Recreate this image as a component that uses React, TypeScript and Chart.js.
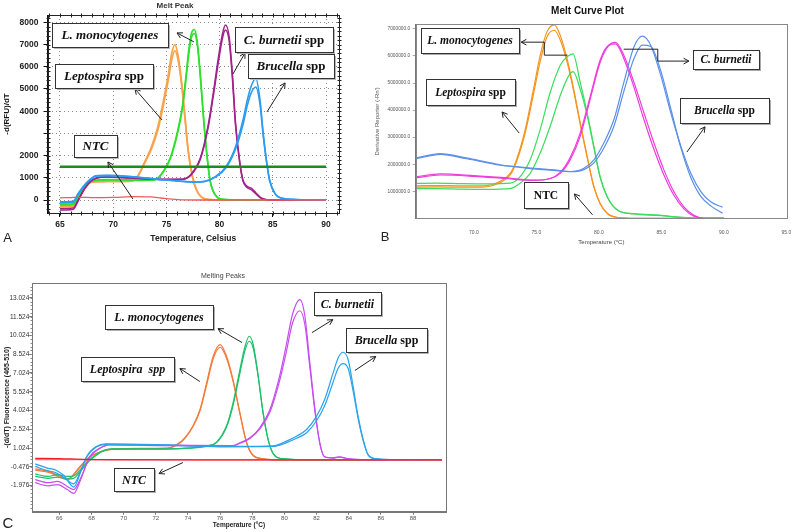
import { useEffect, useRef } from 'react';
import { Chart, registerables } from 'chart.js';
Chart.register(...registerables);

// ================= Panel A : Melt Peak =================
const A_X_TICKS = [65, 70, 75, 80, 85, 90];
const A_Y_TICKS = [0, 1000, 2000, 3000, 4000, 5000, 6000, 7000, 8000];
const A_THRESHOLD = 1500;
const A_THRESHOLD_SPAN = [65, 90];

const A_LEPTO_T = [65, 65.6, 66.25, 66.7, 67.2, 67.8, 68.4, 69.5, 71.0, 71.8, 72.4, 72.9, 73.6, 74.2, 74.8, 75.2, 75.5, 75.8, 76.1, 76.45, 76.75, 77.05, 77.4, 77.85, 78.5, 79.5, 82, 86, 90];
const A_LEPTO_1 = [-300, -300, -280, 80, 450, 760, 820, 830, 830, 850, 1150, 1650, 2400, 3300, 4650, 5700, 6600, 7000, 6500, 5250, 3750, 2250, 1200, 450, 80, 10, 0, 0, 0];
const A_LEPTO_2 = [-250, -250, -230, 100, 470, 780, 840, 850, 850, 860, 1130, 1600, 2300, 3150, 4450, 5450, 6300, 6720, 6300, 5100, 3650, 2200, 1150, 430, 70, 10, 0, 0, 0];

const A_LMONO_T = [65, 65.6, 66.25, 66.7, 67.2, 67.8, 68.4, 69.5, 71, 73, 73.9, 74.8, 75.4, 76.0, 76.5, 76.8, 77.1, 77.35, 77.62, 77.9, 78.2, 78.5, 78.8, 79.1, 79.4, 79.8, 80.4, 82, 86, 90];
const A_LMONO_1 = [-220, -220, -200, 120, 500, 800, 880, 900, 900, 880, 900, 1350, 1950, 3000, 4200, 5400, 6750, 7500, 7680, 7150, 5600, 3700, 2100, 900, 400, 120, 30, 0, 0, 0];
const A_LMONO_2 = [-180, -180, -170, 140, 520, 820, 900, 920, 910, 890, 910, 1330, 1900, 2900, 4100, 5250, 6550, 7300, 7500, 7000, 5500, 3600, 2050, 880, 390, 110, 25, 0, 0, 0];

const A_CBURN_T = [65, 65.6, 66.25, 66.7, 67.2, 67.8, 68.4, 69.5, 71, 73, 75, 76.5, 77.3, 78.2, 78.9, 79.4, 79.9, 80.3, 80.55, 80.9, 81.2, 81.5, 81.9, 82.2, 82.5, 83.0, 83.4, 83.8, 84.2, 84.8, 86, 90];
const A_CBURN_1 = [-450, -450, -420, -50, 400, 800, 980, 1040, 1000, 950, 920, 930, 1150, 1900, 3300, 4800, 6450, 7550, 7880, 7350, 5700, 3450, 1700, 900, 650, 520, 330, 130, 40, 0, 0, 0];
const A_CBURN_2 = [-380, -380, -360, 0, 430, 820, 990, 1050, 1010, 960, 930, 940, 1120, 1850, 3200, 4650, 6250, 7350, 7650, 7150, 5500, 3350, 1650, 850, 600, 450, 280, 110, 30, 0, 0, 0];

const A_BRUC_T = [65, 65.6, 66.25, 66.7, 67.2, 67.8, 68.4, 69.5, 71.7, 74.8, 76.6, 77.6, 78.6, 79.6, 80.6, 81.5, 82.2, 82.6, 82.95, 83.4, 83.8, 84.1, 84.4, 84.7, 85.2, 86, 88, 90];
const A_BRUC_1 = [-120, -120, -100, 250, 600, 900, 1080, 1100, 1050, 900, 830, 800, 830, 1050, 1500, 2400, 3600, 4500, 5100, 5480, 4500, 3000, 1800, 900, 300, 70, 10, 0];
const A_BRUC_2 = [-80, -80, -60, 280, 620, 920, 1090, 1110, 1060, 910, 840, 810, 840, 1030, 1450, 2300, 3400, 4250, 4800, 5090, 4300, 2900, 1750, 880, 290, 65, 10, 0];

const A_NTC_T = [65, 66, 67, 68, 70, 72, 73.5, 74.5, 75.5, 76.5, 80, 85, 90];
const A_NTC_1 = [100, 110, 120, 110, 120, 150, 140, 90, 40, 10, 0, 0, 0];

// ================= Panel B : Melt Curve Plot =================
const B_X_TICKS = [70, 75, 80, 85, 90, 95];
const B_Y_TICKS = [1e6, 2e6, 3e6, 4e6, 5e6, 6e6, 7e6];

const B_LEPTO_T = [65.4, 67, 69, 70.7, 72.1, 72.9, 73.4, 74.1, 74.77, 75.3, 75.84, 76.43, 76.9, 77.45, 77.98, 78.5, 79.06, 79.6, 80.1, 80.7, 81.5, 83, 86, 90];
const B_LEPTO_1 = [1.2e6, 1.21e6, 1.2e6, 1.2e6, 1.37e6, 1.66e6, 2.16e6, 3.28e6, 4.78e6, 6.02e6, 6.89e6, 7.15e6, 6.77e6, 5.9e6, 4.78e6, 3.54e6, 2.29e6, 1.17e6, 0.55e6, 0.17e6, 0.03e6, 0, 0, 0];
const B_LEPTO_2 = [1.15e6, 1.16e6, 1.15e6, 1.15e6, 1.32e6, 1.6e6, 2.08e6, 3.15e6, 4.6e6, 5.8e6, 6.7e6, 6.95e6, 6.6e6, 5.78e6, 4.7e6, 3.48e6, 2.25e6, 1.15e6, 0.54e6, 0.17e6, 0.03e6, 0, 0, 0];

const B_LMONO_T = [65.4, 67, 69, 71, 72.9, 73.7, 74.5, 75.3, 76.1, 76.9, 77.6, 77.93, 78.5, 79.06, 79.6, 80.1, 80.67, 81.5, 82.8, 85, 86.1, 87.2, 88.5, 90];
const B_LMONO_1 = [1.29e6, 1.3e6, 1.28e6, 1.27e6, 1.3e6, 1.54e6, 2.16e6, 3.28e6, 4.65e6, 5.65e6, 6.02e6, 6.08e6, 5.03e6, 3.9e6, 2.66e6, 1.54e6, 0.8e6, 0.3e6, 0.17e6, 0.11e6, 0.05e6, 0.02e6, 0, 0];
const B_LMONO_2 = [1.1e6, 1.1e6, 1.08e6, 1.07e6, 1.1e6, 1.3e6, 1.66e6, 2.41e6, 3.4e6, 4.53e6, 5.28e6, 5.42e6, 4.78e6, 3.8e6, 2.6e6, 1.5e6, 0.78e6, 0.3e6, 0.16e6, 0.1e6, 0.05e6, 0.02e6, 0, 0];

const B_CBURN_T = [65.4, 67.3, 70, 72.5, 74.8, 76.1, 76.9, 77.7, 78.5, 79.3, 80.1, 80.8, 81.33, 82.0, 82.8, 83.6, 84.4, 85.2, 86.0, 86.8, 87.6, 88.4, 90];
const B_CBURN_1 = [1.54e6, 1.64e6, 1.58e6, 1.5e6, 1.41e6, 1.47e6, 1.66e6, 2.16e6, 3.03e6, 4.4e6, 5.77e6, 6.39e6, 6.5e6, 6.02e6, 5.03e6, 3.9e6, 2.79e6, 1.79e6, 0.98e6, 0.42e6, 0.11e6, 0, 0];
const B_CBURN_2 = [1.5e6, 1.6e6, 1.55e6, 1.47e6, 1.4e6, 1.47e6, 1.7e6, 2.25e6, 3.15e6, 4.5e6, 5.85e6, 6.4e6, 6.45e6, 5.9e6, 4.85e6, 3.65e6, 2.55e6, 1.6e6, 0.85e6, 0.35e6, 0.08e6, 0, 0];

const B_BRUC_T = [65.4, 67.3, 69.4, 72.1, 74.8, 76.4, 77.7, 78.8, 79.6, 80.4, 81.2, 82.0, 82.8, 83.48, 84.15, 84.95, 85.75, 86.56, 87.36, 88.17, 88.97, 89.9];
const B_BRUC_1 = [2.23e6, 2.39e6, 2.23e6, 1.98e6, 1.85e6, 1.79e6, 1.73e6, 1.85e6, 2.16e6, 2.79e6, 3.65e6, 5.03e6, 6.33e6, 6.73e6, 6.39e6, 5.28e6, 3.9e6, 2.66e6, 1.66e6, 0.98e6, 0.6e6, 0.41e6];
const B_BRUC_2 = [2.2e6, 2.36e6, 2.2e6, 1.96e6, 1.83e6, 1.77e6, 1.72e6, 1.8e6, 2.05e6, 2.6e6, 3.4e6, 4.7e6, 5.9e6, 6.4e6, 6.35e6, 5.45e6, 4.05e6, 2.6e6, 1.5e6, 0.8e6, 0.45e6, 0.19e6];

// ================= Panel C : Melting Peaks =================
const C_X_TICKS = [66, 68, 70, 72, 74, 76, 78, 80, 82, 84, 86, 88];
const C_Y_TICKS = [-1.976, -0.476, 1.024, 2.524, 4.024, 5.524, 7.024, 8.524, 10.024, 11.524, 13.024];

const C_LEPTO_T = [64.5, 65.4, 66.0, 66.5, 67.3, 67.8, 68.5, 69.4, 71, 72.7, 73.3, 73.8, 74.3, 74.75, 75.16, 75.57, 76.0, 76.4, 76.8, 77.23, 77.65, 78.06, 78.7, 80, 85, 89.8];
const C_LEPTO_1 = [-0.64, -0.86, -1.2, -1.46, -0.43, 0.24, 0.7, 0.95, 1.0, 1.02, 1.3, 1.84, 2.77, 4.1, 6.23, 8.36, 9.29, 8.36, 6.5, 3.83, 1.44, 0.42, 0.16, 0.08, 0.06, 0.06];
const C_LEPTO_2 = [-0.75, -0.95, -1.3, -1.5, -0.5, 0.2, 0.68, 0.93, 0.98, 1.0, 1.25, 1.78, 2.7, 4.0, 6.05, 8.15, 9.08, 8.2, 6.4, 3.8, 1.42, 0.42, 0.16, 0.08, 0.06, 0.06];

const C_LMONO_T = [64.5, 65.3, 65.9, 66.5, 66.9, 67.3, 67.8, 68.3, 68.8, 69.4, 72, 75.16, 75.78, 76.4, 76.8, 77.23, 77.54, 77.81, 78.06, 78.37, 78.68, 78.99, 79.3, 79.82, 82, 89.8];
const C_LMONO_1 = [-1.05, -1.25, -1.1, -1.25, -1.2, -0.7, 0.0, 0.5, 0.85, 0.95, 0.95, 1.2, 1.5, 2.8, 4.6, 7.3, 9.1, 9.96, 9.3, 6.8, 3.8, 1.7, 0.58, 0.18, 0.07, 0.06];
const C_LMONO_2 = [-1.25, -1.4, -1.3, -1.45, -1.4, -0.85, -0.1, 0.45, 0.82, 0.93, 0.93, 1.15, 1.45, 2.7, 4.4, 7.0, 8.8, 9.56, 9.0, 6.7, 3.75, 1.68, 0.57, 0.18, 0.07, 0.06];

const C_CBURN_T = [64.5, 65.3, 65.9, 66.5, 66.9, 67.3, 67.9, 68.5, 69.1, 72, 76.8, 77.23, 77.85, 78.47, 79.1, 79.7, 80.1, 80.5, 80.96, 81.27, 81.58, 81.9, 82.2, 82.5, 83.0, 83.4, 84.0, 86, 89.8];
const C_CBURN_1 = [-1.75, -2.0, -1.9, -2.3, -2.6, -1.6, 0.36, 1.0, 1.3, 1.25, 1.22, 1.44, 1.84, 2.64, 4.1, 6.77, 9.17, 11.7, 12.89, 11.6, 7.85, 4.1, 1.44, 0.32, 0.24, 0.32, 0.16, 0.07, 0.06];
const C_CBURN_2 = [-1.5, -1.75, -1.65, -2.05, -2.3, -1.45, 0.3, 0.98, 1.28, 1.22, 1.2, 1.4, 1.78, 2.55, 3.9, 6.4, 8.6, 11.0, 12.0, 10.9, 7.5, 3.9, 1.4, 0.3, 0.22, 0.3, 0.15, 0.07, 0.06];

const C_BRUC_T = [64.5, 65.3, 65.8, 66.3, 66.9, 67.3, 67.7, 68.3, 68.9, 72, 76, 79.3, 80.13, 80.75, 81.38, 82.0, 82.5, 83.03, 83.34, 83.65, 83.96, 84.27, 84.58, 84.9, 85.2, 85.73, 88, 89.8];
const C_BRUC_1 = [-0.24, -0.6, -0.75, -1.2, -2.1, -1.0, 0.35, 1.15, 1.35, 1.3, 1.15, 1.2, 1.57, 1.97, 2.5, 3.57, 4.9, 7.03, 8.23, 8.68, 8.1, 5.97, 3.57, 1.7, 0.5, 0.16, 0.07, 0.06];
const C_BRUC_2 = [-0.45, -0.8, -0.95, -1.35, -1.85, -0.9, 0.3, 1.1, 1.32, 1.28, 1.12, 1.15, 1.45, 1.8, 2.25, 3.2, 4.4, 6.3, 7.4, 7.78, 7.4, 5.6, 3.4, 1.6, 0.48, 0.16, 0.07, 0.06];

const C_NTC_T = [64.5, 66, 67.5, 69, 75, 80, 85, 89.8];
const C_NTC_1 = [0.2, 0.18, 0.12, 0.1, 0.08, 0.08, 0.08, 0.08];
const C_NTC_2 = [0.1, 0.1, 0.1, 0.08, 0.07, 0.07, 0.07, 0.06];

// ================= Annotation callouts (data coordinates) =================
type Part = [string, boolean];
type Box = { t1: number; v1: number; t2: number; v2: number; parts: Part[] };

const A_BOXES: Box[] = [
  { t1: 64.25, v1: 7974, t2: 75.15, v2: 6893, parts: [['L. monocytogenes', true]] },
  { t1: 81.45, v1: 7794, t2: 90.66, v2: 6667, parts: [['C. burnetii', true], [' spp', false]] },
  { t1: 64.53, v1: 6127, t2: 73.74, v2: 5046, parts: [['Leptospira', true], [' spp', false]] },
  { t1: 82.67, v1: 6577, t2: 90.75, v2: 5496, parts: [['Brucella', true], [' spp', false]] },
  { t1: 66.32, v1: 2928, t2: 70.36, v2: 1937, parts: [['NTC', true]] },
];
const A_ARROWS = [
  [[77.59, 7118], [76.0, 7523]],
  [[81.26, 5676], [82.39, 6622]],
  [[74.59, 3604], [72.05, 5001]],
  [[84.45, 3964], [86.15, 5271]],
  [[71.86, 45], [69.51, 1712]],
];

const B_BOXES: Box[] = [
  { t1: 65.74, v1: 7.03e6, t2: 73.62, v2: 6.11e6, parts: [['L. monocytogenes', true]] },
  { t1: 87.52, v1: 6.22e6, t2: 92.83, v2: 5.52e6, parts: [['C. burnetii', true]] },
  { t1: 66.14, v1: 5.15e6, t2: 73.3, v2: 4.19e6, parts: [['Leptospira', true], [' spp', false]] },
  { t1: 86.48, v1: 4.45e6, t2: 93.63, v2: 3.52e6, parts: [['Brucella', true], [' spp', false]] },
  { t1: 74.02, v1: 1.35e6, t2: 77.56, v2: 0.39e6, parts: [['NTC', false]] },
];
const B_ARROWS = [
  [[77.48, 6.03e6], [75.63, 6.03e6], [75.63, 6.51e6], [73.78, 6.51e6]],
  [[81.98, 6.25e6], [84.71, 6.25e6], [84.71, 5.81e6], [87.2, 5.81e6]],
  [[73.62, 3.15e6], [72.25, 3.93e6]],
  [[87.04, 2.45e6], [88.49, 3.38e6]],
  [[79.49, 0.13e6], [78.04, 0.9e6]],
];

const C_BOXES: Box[] = [
  { t1: 68.84, v1: 12.49, t2: 75.55, v2: 10.57, parts: [['L. monocytogenes', true]] },
  { t1: 81.83, v1: 13.53, t2: 86.0, v2: 11.69, parts: [['C. burnetii', true]] },
  { t1: 67.35, v1: 8.33, t2: 73.13, v2: 6.42, parts: [['Leptospira', true], ['  spp', true]] },
  { t1: 83.82, v1: 10.65, t2: 88.85, v2: 8.74, parts: [['Brucella', true], [' spp', false]] },
  { t1: 69.4, v1: -0.54, t2: 71.89, v2: -2.38, parts: [['NTC', true]] },
];
const C_ARROWS = [
  [[77.36, 9.46], [75.87, 10.57]],
  [[81.71, 10.25], [83.01, 11.29]],
  [[74.74, 6.34], [73.5, 7.38]],
  [[84.38, 7.22], [85.68, 8.34]],
  [[73.69, -0.14], [72.2, -1.02]],
];

// ================= helpers =================
const SANS = "'Liberation Sans', Arial, sans-serif";
const SERIF = "'Liberation Serif', 'Times New Roman', serif";

function pts(temps: number[], vals: number[]) {
  return temps.map((t, i) => ({ x: t, y: vals[i] }));
}
function curves(temps: number[], reps: number[][], color: string, width: number) {
  return reps.map((r) => ({
    data: pts(temps, r),
    borderColor: color,
    borderWidth: width,
    pointRadius: 0,
    cubicInterpolationMode: 'monotone' as const,
    fill: false,
  }));
}

type TextItem = { text: string; x: number; y: number; font: string; color: string };
type Minor = { xStep?: number; yStep?: number; yFrom?: number; len: number; color: string; all: boolean };
type DecoCfg = {
  boxes: Box[];
  arrows: number[][][];
  boxFont: number;
  frame: string;
  shadow: string;
  texts: TextItem[];
  minor?: Minor;
};

function makeDeco(cfg: DecoCfg) {
  return {
    id: 'deco',
    afterDatasetsDraw(chart: any) {
      const ctx: CanvasRenderingContext2D = chart.ctx;
      const { left, top, right, bottom } = chart.chartArea;
      const xs = chart.scales.x;
      const ys = chart.scales.y;
      ctx.save();
      const L = Math.round(left) + 0.5;
      const T = Math.round(top) + 0.5;
      const R = Math.round(right) + 0.5;
      const B = Math.round(bottom) + 0.5;
      ctx.strokeStyle = cfg.frame;
      ctx.lineWidth = 1;
      ctx.strokeRect(L, T, R - L, B - T);
      // minor tick marks on the frame
      if (cfg.minor) {
        const m = cfg.minor;
        ctx.strokeStyle = m.color;
        ctx.beginPath();
        if (m.xStep) {
          for (let t = Math.ceil(xs.min / m.xStep) * m.xStep; t <= xs.max; t += m.xStep) {
            const x = Math.round(xs.getPixelForValue(t)) + 0.5;
            ctx.moveTo(x, B - m.len); ctx.lineTo(x, B + (m.all ? m.len : 0));
            if (m.all) { ctx.moveTo(x, T - m.len); ctx.lineTo(x, T + m.len); }
          }
        }
        if (m.yStep) {
          const from = m.yFrom ?? 0;
          const k0 = Math.ceil((ys.min - from) / m.yStep);
          for (let k = k0; from + k * m.yStep <= ys.max; k++) {
            const y = Math.round(ys.getPixelForValue(from + k * m.yStep)) + 0.5;
            ctx.moveTo(L - m.len, y); ctx.lineTo(L + (m.all ? m.len : 0), y);
            if (m.all) { ctx.moveTo(R - m.len, y); ctx.lineTo(R + m.len, y); }
          }
        }
        ctx.stroke();
      }
      // arrows
      ctx.strokeStyle = '#222';
      ctx.lineWidth = 1;
      for (const a of cfg.arrows) {
        const p = a.map(([t, v]) => [xs.getPixelForValue(t), ys.getPixelForValue(v)]);
        ctx.beginPath();
        p.forEach(([x, y], i) => (i ? ctx.lineTo(x, y) : ctx.moveTo(x, y)));
        ctx.stroke();
        const [x1, y1] = p[p.length - 2];
        const [x2, y2] = p[p.length - 1];
        const ang = Math.atan2(y2 - y1, x2 - x1);
        const h = 6;
        ctx.beginPath();
        ctx.moveTo(x2 - h * Math.cos(ang - 0.5), y2 - h * Math.sin(ang - 0.5));
        ctx.lineTo(x2, y2);
        ctx.lineTo(x2 - h * Math.cos(ang + 0.5), y2 - h * Math.sin(ang + 0.5));
        ctx.stroke();
      }
      // boxes
      for (const b of cfg.boxes) {
        const x1 = Math.round(xs.getPixelForValue(b.t1));
        const x2 = Math.round(xs.getPixelForValue(b.t2));
        const y1 = Math.round(ys.getPixelForValue(b.v1));
        const y2 = Math.round(ys.getPixelForValue(b.v2));
        const w = x2 - x1;
        const hh = y2 - y1;
        ctx.fillStyle = cfg.shadow;
        ctx.fillRect(x1 + 2, y1 + 2, w, hh);
        ctx.fillStyle = '#fff';
        ctx.fillRect(x1, y1, w, hh);
        ctx.strokeStyle = '#333';
        ctx.strokeRect(x1 + 0.5, y1 + 0.5, w, hh);
        const fonts = b.parts.map(([, it]) => `${it ? 'italic ' : ''}bold ${cfg.boxFont}px ${SERIF}`);
        let total = 0;
        const widths = b.parts.map(([txt], i) => {
          ctx.font = fonts[i];
          const m = ctx.measureText(txt).width;
          total += m;
          return m;
        });
        let x = (x1 + x2) / 2 - total / 2;
        const y = (y1 + y2) / 2 + 1;
        ctx.fillStyle = '#111';
        ctx.textBaseline = 'middle';
        ctx.textAlign = 'left';
        b.parts.forEach(([txt], i) => {
          ctx.font = fonts[i];
          ctx.fillText(txt, x, y);
          x += widths[i];
        });
      }
      ctx.restore();
    },
    afterDraw(chart: any) {
      const ctx: CanvasRenderingContext2D = chart.ctx;
      ctx.save();
      ctx.textAlign = 'center';
      ctx.textBaseline = 'middle';
      for (const t of cfg.texts) {
        ctx.font = t.font;
        ctx.fillStyle = t.color;
        ctx.fillText(t.text, t.x, t.y);
      }
      ctx.restore();
    },
  };
}

function setTicks(values: number[]) {
  return (scale: any) => {
    scale.ticks = values.map((v) => ({ value: v }));
  };
}
function fixHeight(h: number) {
  return (s: any) => { s.height = h; s.paddingLeft = 0; s.paddingRight = 0; s.paddingTop = 0; s.paddingBottom = 0; };
}
function fixWidth(w: number) {
  return (s: any) => { s.width = w; s.paddingLeft = 0; s.paddingRight = 0; s.paddingTop = 0; s.paddingBottom = 0; };
}

// ================= chart configs =================
function configA(): any {
  const datasets = [
    {
      data: pts(A_THRESHOLD_SPAN, [A_THRESHOLD, A_THRESHOLD]),
      borderColor: '#1f8a1f',
      borderWidth: 2.5,
      pointRadius: 0,
      fill: false,
    },
    ...curves(A_NTC_T, [A_NTC_1], '#f05a5a', 1.3),
    ...curves(A_BRUC_T, [A_BRUC_1, A_BRUC_2], '#2a9cf2', 1.6),
    ...curves(A_CBURN_T, [A_CBURN_1, A_CBURN_2], '#a2238c', 1.5),
    ...curves(A_LMONO_T, [A_LMONO_1, A_LMONO_2], '#2fe02f', 1.6),
    ...curves(A_LEPTO_T, [A_LEPTO_1, A_LEPTO_2], '#f9a24c', 1.7),
  ];
  return {
    type: 'line',
    data: { datasets },
    options: {
      responsive: false,
      animation: false,
      layout: { padding: { left: 0, top: 15, right: 33, bottom: 0 } },
      plugins: { legend: { display: false }, tooltip: { enabled: false } },
      scales: {
        x: {
          type: 'linear',
          min: 63.83,
          max: 91.22,
          afterBuildTicks: setTicks(A_X_TICKS),
          afterFit: fixHeight(37),
          grid: { color: '#8a8a8a', tickLength: 4, tickColor: '#111', tickBorderDash: [] },
          border: { display: true, color: '#111', dash: [1, 3] },
          ticks: { font: { family: SANS, size: 8.5, weight: 'bold' }, color: '#222', padding: 3, maxRotation: 0, autoSkip: false },
          title: { display: true, text: 'Temperature, Celsius', font: { family: SANS, size: 8.5, weight: 'bold' }, color: '#222', padding: { top: 0, bottom: 6 } },
        },
        y: {
          type: 'linear',
          min: -585,
          max: 8330,
          afterBuildTicks: setTicks(A_Y_TICKS),
          afterFit: fixWidth(47.5),
          grid: { color: '#8a8a8a', tickLength: 4, tickColor: '#111', tickBorderDash: [] },
          border: { display: true, color: '#111', dash: [1, 3] },
          ticks: {
            font: { family: SANS, size: 8.5, weight: 'bold' },
            color: '#222',
            padding: 5,
            callback: (v: number) => (v === 3000 ? '' : String(v)),
          },
          title: { display: true, text: '-d(RFU)/dT', font: { family: SANS, size: 8, weight: 'bold' }, color: '#111', padding: { top: 2, bottom: 0 } },
        },
      },
    },
    plugins: [
      makeDeco({
        boxes: A_BOXES,
        arrows: A_ARROWS,
        boxFont: 13,
        frame: '#222',
        shadow: '#b8b8b8',
        minor: { xStep: 1, yStep: 200, len: 2, color: '#222', all: true },
        texts: [
          { text: 'Melt Peak', x: 175, y: 6, font: `bold 8px ${SANS}`, color: '#333' },
          { text: 'A', x: 7.5, y: 238, font: `13px ${SANS}`, color: '#222' },
        ],
      }),
    ],
  };
}

function configB(): any {
  const datasets = [
    ...curves(B_BRUC_T, [B_BRUC_1, B_BRUC_2], '#5b8fe8', 1.2),
    ...curves(B_CBURN_T, [B_CBURN_1, B_CBURN_2], '#f03cdc', 1.2),
    ...curves(B_LMONO_T, [B_LMONO_1, B_LMONO_2], '#3cdc5c', 1.2),
    ...curves(B_LEPTO_T, [B_LEPTO_1, B_LEPTO_2], '#f7941d', 1.2),
  ];
  return {
    type: 'line',
    data: { datasets },
    options: {
      responsive: false,
      animation: false,
      layout: { padding: { left: 0, top: 24.3, right: 6, bottom: 0 } },
      plugins: { legend: { display: false }, tooltip: { enabled: false } },
      scales: {
        x: {
          type: 'linear',
          min: 65.34,
          max: 95.05,
          afterBuildTicks: setTicks(B_X_TICKS),
          afterFit: fixHeight(31.7),
          grid: { display: true, drawOnChartArea: false, drawTicks: false },
          border: { display: true, color: '#777' },
          ticks: { font: { family: SANS, size: 5 }, color: '#555', padding: 11, maxRotation: 0, autoSkip: false, callback: (v: number) => v.toFixed(1) },
          title: { display: true, text: 'Temperature (°C)', font: { family: SANS, size: 6 }, color: '#444', padding: { top: 0, bottom: 4.5 } },
        },
        y: {
          type: 'linear',
          min: 0,
          max: 7.17e6,
          afterBuildTicks: setTicks(B_Y_TICKS),
          afterFit: fixWidth(50.7),
          grid: { display: true, drawOnChartArea: false, tickLength: 3, tickColor: '#aaa' },
          border: { display: true, color: '#777' },
          ticks: { font: { family: SANS, size: 4.8 }, color: '#555', padding: 2.5, callback: (v: number) => v.toFixed(1) },
          title: { display: true, text: "Derivative Reporter (-Rn')", font: { family: SANS, size: 6 }, color: '#555', padding: { top: 9, bottom: 0 } },
        },
      },
    },
    plugins: [
      makeDeco({
        boxes: B_BOXES,
        arrows: B_ARROWS,
        boxFont: 11.5,
        frame: '#888',
        shadow: '#aaa',
        texts: [
          { text: 'Melt Curve Plot', x: 222.5, y: 11, font: `bold 10px ${SANS}`, color: '#111' },
          { text: 'B', x: 20, y: 237, font: `13px ${SANS}`, color: '#222' },
        ],
      }),
    ],
  };
}

function configC(): any {
  const datasets = [
    ...curves(C_NTC_T, [C_NTC_1], '#f02020', 1.3),
    ...curves(C_NTC_T, [C_NTC_2], '#f5709a', 1.3),
    ...curves(C_BRUC_T, [C_BRUC_1, C_BRUC_2], '#2aa3ec', 1.2),
    ...curves(C_CBURN_T, [C_CBURN_1, C_CBURN_2], '#c84cf0', 1.2),
    ...curves(C_LMONO_T, [C_LMONO_1, C_LMONO_2], '#1ec06a', 1.2),
    ...curves(C_LEPTO_T, [C_LEPTO_1, C_LEPTO_2], '#f47a3a', 1.2),
  ];
  return {
    type: 'line',
    data: { datasets },
    options: {
      responsive: false,
      animation: false,
      layout: { padding: { left: 0, top: 18, right: 14.3, bottom: 0 } },
      plugins: { legend: { display: false }, tooltip: { enabled: false } },
      scales: {
        x: {
          type: 'linear',
          min: 64.32,
          max: 90.03,
          afterBuildTicks: setTicks(C_X_TICKS),
          afterFit: fixHeight(20.3),
          grid: { display: true, drawOnChartArea: false, tickLength: 3, tickColor: '#777' },
          border: { display: true, color: '#777' },
          ticks: { font: { family: SANS, size: 6 }, color: '#555', padding: 0, maxRotation: 0, autoSkip: false },
          title: { display: true, text: 'Temperature (°C)', font: { family: SANS, size: 6.5, weight: 'bold' }, color: '#222', padding: { top: 0, bottom: 2.5 } },
        },
        y: {
          type: 'linear',
          min: -4.07,
          max: 14.22,
          afterBuildTicks: setTicks(C_Y_TICKS),
          afterFit: fixWidth(32.3),
          grid: { display: true, drawOnChartArea: false, tickLength: 3, tickColor: '#777' },
          border: { display: true, color: '#777' },
          ticks: { font: { family: SANS, size: 6.5 }, color: '#333', padding: 0, callback: (v: number) => v.toFixed(3) },
          title: { display: true, text: '-(d/dT) Fluorescence (465-510)', font: { family: SANS, size: 7, weight: 'bold' }, color: '#222', padding: { top: 2.5, bottom: 0 } },
        },
      },
    },
    plugins: [
      makeDeco({
        boxes: C_BOXES,
        arrows: C_ARROWS,
        boxFont: 12,
        frame: '#777',
        shadow: '#b0b0b0',
        minor: { yStep: 0.3, yFrom: -1.976, len: 2, color: '#888', all: false },
        texts: [
          { text: 'Melting Peaks', x: 223, y: 11, font: `7px ${SANS}`, color: '#444' },
          { text: 'C', x: 8, y: 259, font: `15px ${SANS}`, color: '#222' },
        ],
      }),
    ],
  };
}

function Panel(props: { left: number; top: number; width: number; height: number; build: () => any }) {
  const ref = useRef<HTMLCanvasElement>(null);
  useEffect(() => {
    const chart = new Chart(ref.current as HTMLCanvasElement, props.build());
    return () => chart.destroy();
  }, []);
  const { left, top, width, height } = props;
  return (
    <div style={{ position: 'absolute', left, top, width, height }}>
      <canvas ref={ref} width={width} height={height} style={{ width, height, display: 'block' }} />
    </div>
  );
}

export default function App() {
  return (
    <div style={{ position: 'absolute', left: 0, top: 0, width: 793, height: 532, background: '#fff', overflow: 'hidden' }}>
      <Panel left={0} top={0} width={372} height={250} build={configA} />
      <Panel left={365} top={0} width={428} height={250} build={configB} />
      <Panel left={0} top={265} width={460} height={267} build={configC} />
    </div>
  );
}
